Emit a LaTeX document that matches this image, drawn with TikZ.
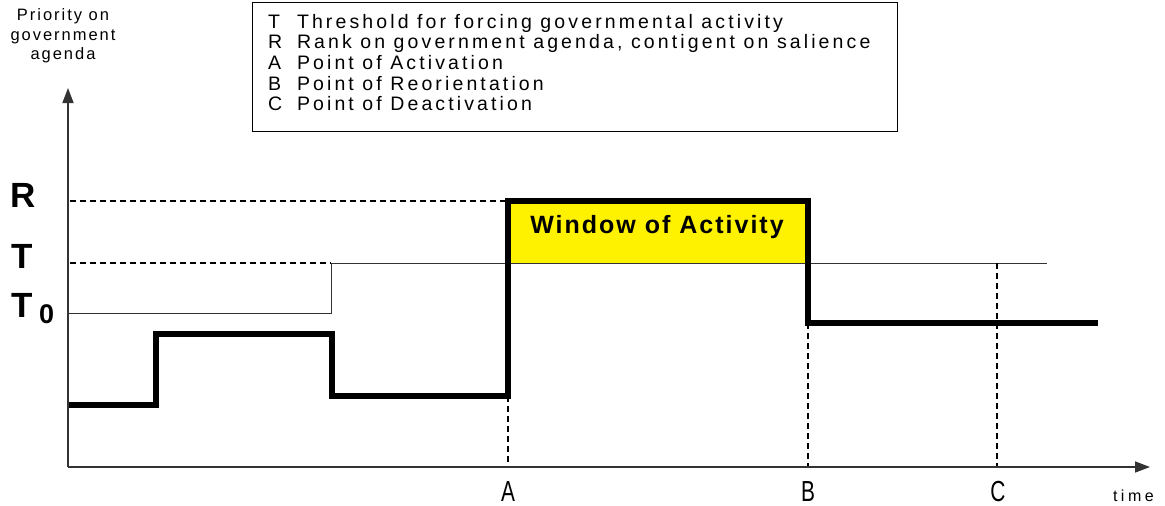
\documentclass[tikz,border=0pt]{standalone}
\usepackage{fontspec}
\setmainfont{Liberation Sans}
\newfontfamily\legfont[LetterSpace=16]{Liberation Sans}
\newfontfamily\ylabfont[LetterSpace=12]{Liberation Sans}
\newfontfamily\winfont[LetterSpace=8]{Liberation Sans}
\newfontfamily\timefont[LetterSpace=22]{Liberation Sans}
\usetikzlibrary{arrows.meta}
\begin{document}
\begin{tikzpicture}[x=1pt,y=-1pt,
  axis/.style={line width=1.5pt, draw=black!80, -{Triangle[width=11pt,length=15pt]}},
  thinline/.style={line width=1pt, draw=black!80},
  dashline/.style={line width=1.5pt, dash pattern=on 6pt off 4pt},
  stairs/.style={line width=5.5pt, line join=miter},
  lab/.style={inner sep=0pt, outer sep=0pt},
  legtext/.style={lab, anchor=base west, font=\legfont\fontsize{19.5}{21}\selectfont},
  ylab/.style={lab, anchor=base, font=\ylabfont\fontsize{16.5}{18}\selectfont},
  big/.style={lab, anchor=base west, font=\fontsize{35}{35}\selectfont\bfseries},
  pt/.style={lab, anchor=base},
]
\useasboundingbox (0,0) rectangle (1165,506);

% legend
\node[draw, line width=1pt, minimum width=645pt, minimum height=129pt, anchor=north west, inner sep=0pt] (legend) at (252,2) {};
\node[legtext] (kT) at (268,28) {T};
\node[legtext] (dT) at (297,28) {Threshold for forcing governmental activity};
\node[legtext] (kR) at (268,48.7) {R};
\node[legtext] (dR) at (297,48.7) {Rank on government agenda, contigent on salience};
\node[legtext] (kA) at (268,69.4) {A};
\node[legtext] (dA) at (297,69.4) {Point of Activation};
\node[legtext] (kB) at (268,90.1) {B};
\node[legtext] (dB) at (297,90.1) {Point of Reorientation};
\node[legtext] (kC) at (268,110.8) {C};
\node[legtext] (dC) at (297,110.8) {Point of Deactivation};

% y label
\node[ylab] (y1) at (63,20.7) {Priority on};
\node[ylab] (y2) at (63,40.2) {government};
\node[ylab] (y3) at (63,59.7) {agenda};

% coordinates
\coordinate (O) at (68,467);
\coordinate (Ytop) at (68,88);
\coordinate (Xend) at (1150,467);
\coordinate (p1) at (68,405);
\coordinate (p2) at (156,405);
\coordinate (p3) at (156,334);
\coordinate (p4) at (332,334);
\coordinate (p5) at (332,396);
\coordinate (p6) at (508,396);
\coordinate (p7) at (508,201);
\coordinate (p8) at (808,201);
\coordinate (p9) at (808,323);
\coordinate (p10) at (1098,323);
\coordinate (t1) at (68,313);
\coordinate (t2) at (331,313);
\coordinate (t3) at (331,263);
\coordinate (t4) at (1047,263);
\coordinate (rs) at (70,201);
\coordinate (ts) at (70,263);
\coordinate (aA) at (508,467);
\coordinate (aB) at (808,467);
\coordinate (cT) at (997,263);
\coordinate (aC) at (997,467);

% window
\fill[yellow] (p7) rectangle (808,263);

% thin threshold line
\draw[thinline] (t1) -- (t2) -- (t3) -- (t4);

% dashed
\draw[dashline] (rs) -- (p7);
\draw[dashline] (ts) -- (t3);
\draw[dashline] (p6) -- (aA);
\draw[dashline] (p9) -- (aB);
\draw[dashline] (cT) -- (aC);

% thick stairs
\draw[stairs] (p1) -- (p2) -- (p3) -- (p4) -- (p5) -- (p6) -- (p7) -- (p8) -- (p9) -- (p10);

% axes
\draw[axis] (O) -- (Ytop);
\draw[axis] (O) -- (Xend);

% labels
\node[big] (Rl) at (10,207) {R};
\node[big] (Tl) at (12,268) {T};
\node[big] (T0l) at (12,317) {T};
\node[lab, anchor=base west, font=\fontsize{27}{27}\selectfont\bfseries] (T0s) at (39,323) {0};
\node[lab, anchor=base, font=\winfont\bfseries\fontsize{25}{25}\selectfont] (win) at (657,233) {Window of Activity};
\node[pt] (Al) at (508,501) {\scalebox{0.72}[1]{\fontsize{29}{29}\selectfont A}};
\node[pt] (Bl) at (808,501) {\scalebox{0.72}[1]{\fontsize{29}{29}\selectfont B}};
\node[pt] (Cl) at (998,501) {\scalebox{0.72}[1]{\fontsize{29}{29}\selectfont C}};
\node[lab, anchor=base west, font=\timefont\fontsize{16}{16}\selectfont] (time) at (1113,501) {time};
\end{tikzpicture}
\end{document}
